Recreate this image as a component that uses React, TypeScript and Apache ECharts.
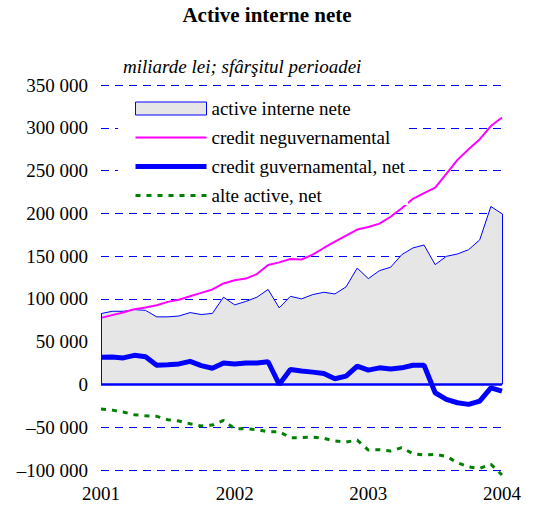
import React, { useEffect, useRef } from 'react';
import * as echarts from 'echarts';

// Monthly categories, Jan 2001 .. Jan 2004 (37 points)
const categories: string[] = [];
for (let y = 2001; y <= 2004; y++) {
  for (let m = 1; m <= 12; m++) {
    if (y === 2004 && m > 1) break;
    categories.push(`${y}-${String(m).padStart(2, '0')}`);
  }
}

const yearLabels = ['2001', '2002', '2003', '2004'];

const activeInterne = [
  82800, 85500, 85500, 87500, 86600, 79000, 79000, 80000, 84000, 81700, 83000, 102000,
  93000, 97000, 102000, 111000, 89500, 103000, 100000, 105000, 107700, 105800, 114000, 136000,
  123700, 133000, 137000, 151700, 159500, 163000, 140000, 149700, 152500, 157500, 169000, 208000,
  199500,
];

const creditNeguv = [
  77800, 81000, 84000, 88000, 90000, 92500, 96500, 99000, 103000, 107000, 111000, 118000,
  121700, 123700, 129000, 139600, 142700, 146600, 146000, 151700, 159500, 167000, 174000, 181000,
  184000, 188000, 196000, 206000, 217000, 223600, 230000, 246000, 262500, 275000, 286700, 302000,
  312000,
];

const creditGuv = [
  31900, 32000, 31000, 34000, 32400, 22500, 23000, 24000, 27000, 22000, 19000, 25000,
  24000, 25000, 25000, 26500, 0, 17500, 15600, 14400, 12800, 6600, 9700, 21400,
  16700, 19400, 18000, 19400, 22500, 22500, -9700, -17500, -21400, -23300, -19400, -3900,
  -7800,
];

const alteActive = [
  -28800, -30000, -32300, -35400, -36600, -37300, -41200, -42800, -45900, -48600, -47500, -42000,
  -51800, -51800, -52900, -55200, -55200, -62200, -62200, -61500, -63000, -66000, -67300, -65000,
  -76700, -76300, -77800, -73900, -80900, -82500, -81700, -84000, -91400, -96400, -98000, -93300,
  -105800,
];

const seriesNames = [
  'active interne nete',
  'credit neguvernamental',
  'credit guvernamental, net',
  'alte active, net',
];

const FONT = 'Liberation Serif';

function fmtY(v: number): string {
  const a = Math.abs(v);
  const s = a === 0 ? '0' : `${Math.floor(a / 1000)} ${String(a % 1000).padStart(3, '0')}`;
  return v < 0 ? '\u2013' + s : s;
}

export default function App() {
  const ref = useRef<HTMLDivElement>(null);

  useEffect(() => {
    document.body.style.margin = '0';
    if (!ref.current) return;
    const chart = echarts.init(ref.current, undefined, { renderer: 'svg' });
    const last = categories.length - 1;
    chart.setOption({
      animation: false,
      textStyle: { fontFamily: FONT, color: '#000' },
      title: [
        {
          text: 'Active interne nete',
          left: 'center',
          top: 4,
          padding: 0,
          textStyle: { fontFamily: FONT, fontSize: 21, fontWeight: 'bold', color: '#000' },
        },
        {
          text: 'miliarde lei; sfârşitul perioadei',
          left: 123,
          top: 57,
          padding: 0,
          textStyle: { fontFamily: FONT, fontSize: 19, fontStyle: 'italic', fontWeight: 'normal', color: '#000' },
        },
      ],
      legend: {
        orient: 'vertical',
        left: 118,
        top: 92,
        padding: [7, 3, 0, 15],
        backgroundColor: '#ffffff',
        itemWidth: 71,
        itemHeight: 13,
        itemGap: 10,
        selectedMode: false,
        textStyle: { fontFamily: FONT, fontSize: 19, color: '#000' },
        data: [
          {
            name: seriesNames[0],
            icon: 'rect',
            itemStyle: { color: '#e6e6e6', borderColor: '#0000ff', borderWidth: 1 },
          },
          { name: seriesNames[1], lineStyle: { width: 2 }, itemStyle: { opacity: 0 } },
          { name: seriesNames[2], lineStyle: { width: 5 }, itemStyle: { opacity: 0 } },
          { name: seriesNames[3], lineStyle: { width: 3 }, itemStyle: { opacity: 0 } },
        ],
      },
      grid: { left: 101, right: 32, top: 85, bottom: 36 },
      xAxis: {
        type: 'category',
        data: categories,
        boundaryGap: false,
        axisLine: { show: false },
        axisTick: { show: false },
        splitLine: { show: false },
        axisLabel: {
          interval: (i: number) => i % 12 === 0,
          formatter: (_v: string, i: number) => yearLabels[Math.floor(i / 12)] ?? '',
          fontFamily: FONT,
          fontSize: 19,
          color: '#000',
          margin: 14,
        },
      },
      yAxis: {
        type: 'value',
        min: -100000,
        max: 350000,
        interval: 50000,
        axisLine: { show: false },
        axisTick: { show: false },
        axisLabel: { formatter: fmtY, fontFamily: FONT, fontSize: 19, color: '#000', margin: 13 },
        splitLine: { lineStyle: { color: '#0000ff', type: [8, 6], width: 1 } },
      },
      series: [
        {
          name: seriesNames[0],
          type: 'line',
          data: activeInterne,
          symbol: 'none',
          lineStyle: { color: '#0000ff', width: 1 },
          itemStyle: { color: '#0000ff' },
          areaStyle: { color: '#e6e6e6', opacity: 1 },
          markLine: {
            silent: true,
            symbol: ['none', 'none'],
            label: { show: false },
            lineStyle: { color: '#0000ff', type: 'solid', width: 1 },
            data: [
              [{ coord: [categories[0], 0] }, { coord: [categories[0], activeInterne[0]] }],
              [{ coord: [categories[last], 0] }, { coord: [categories[last], activeInterne[last]] }],
              [
                { coord: [categories[0], 0], lineStyle: { width: 2.5, color: '#0000ff', type: 'solid' } },
                { coord: [categories[last], 0] },
              ],
            ],
          },
        },
        {
          name: seriesNames[1],
          type: 'line',
          data: creditNeguv,
          symbol: 'none',
          lineStyle: { color: '#ff00ff', width: 2 },
          itemStyle: { color: '#ff00ff' },
        },
        {
          name: seriesNames[2],
          type: 'line',
          data: creditGuv,
          symbol: 'none',
          lineStyle: { color: '#0000ff', width: 5 },
          itemStyle: { color: '#0000ff' },
        },
        {
          name: seriesNames[3],
          type: 'line',
          data: alteActive,
          symbol: 'none',
          clip: false,
          lineStyle: { color: '#008000', width: 3, type: [5, 6] },
          itemStyle: { color: '#008000' },
        },
      ],
    });
    return () => chart.dispose();
  }, []);

  return <div ref={ref} style={{ width: 534, height: 506 }} />;
}
